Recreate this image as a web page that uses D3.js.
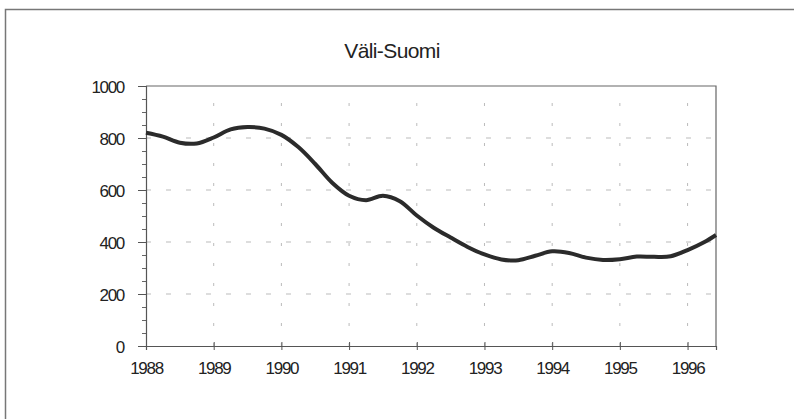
<!DOCTYPE html>
<html><head><meta charset="utf-8">
<script src="https://cdnjs.cloudflare.com/ajax/libs/d3/7.8.5/d3.min.js"></script>
<style>
html,body{margin:0;padding:0;background:#fff;}
svg{display:block;}
text{font-family:"Liberation Sans",Arial,sans-serif;fill:#222;}
</style></head>
<body>
<svg id="c" width="794" height="419"></svg>
<script>
const title = "Väli-Suomi";
const years = [1988, 1988.25, 1988.5, 1988.75, 1989, 1989.25, 1989.5, 1989.75,
  1990, 1990.25, 1990.5, 1990.75, 1991, 1991.25, 1991.5, 1991.75,
  1992, 1992.25, 1992.5, 1992.75, 1993, 1993.25, 1993.5, 1993.75,
  1994, 1994.25, 1994.5, 1994.75, 1995, 1995.25, 1995.5, 1995.75,
  1996, 1996.25, 1996.42];
const values = [820, 805, 782, 779, 802, 833, 842, 836,
  812, 765, 700, 628, 578, 561, 578, 557,
  502, 455, 417, 381, 352, 333, 330, 347,
  364, 358, 340, 331, 334, 344, 343, 345,
  369, 400, 427];
const xTickLabels = [1988, 1989, 1990, 1991, 1992, 1993, 1994, 1995, 1996];
const yTickLabels = [0, 200, 400, 600, 800, 1000];
const yMinorTicks = d3.range(0, 1001, 50);

const svg = d3.select("#c");
const L = 146, R = 716, T = 86, B = 346;
const x = d3.scaleLinear().domain([1988, 1996.42]).range([L, R]);
const y = d3.scaleLinear().domain([0, 1000]).range([B, T]);

// outer frame (top and left only visible)
svg.append("path").attr("d", `M5.5,420 L5.5,9.5 L800,9.5`)
  .attr("fill", "none").attr("stroke", "#777").attr("stroke-width", 1.5);

// title
svg.append("text").attr("x", 392).attr("y", 58).attr("text-anchor", "middle")
  .style("font-size", "21px").style("letter-spacing", "-0.6px").text(title);

// gridlines
const grid = svg.append("g");
grid.selectAll("line.h").data(yTickLabels.filter(d => d > 0 && d < 1000)).join("line")
  .attr("x1", L).attr("x2", R).attr("y1", d => y(d)).attr("y2", d => y(d))
  .attr("stroke", "#aaa").attr("stroke-width", 0.8).attr("stroke-dasharray", "5,15");
grid.selectAll("line.v").data(xTickLabels.filter(d => d > 1988)).join("line")
  .attr("y1", B).attr("y2", T).attr("x1", d => x(d)).attr("x2", d => x(d))
  .attr("stroke", "#aaa").attr("stroke-width", 0.8).attr("stroke-dasharray", "3,17");

// plot box top and right
svg.append("path").attr("d", `M${L},${T} L${R},${T} L${R},${B}`)
  .attr("fill", "none").attr("stroke", "#666").attr("stroke-width", 1.2);

// y axis minor ticks
const yAxisG = svg.append("g").attr("transform", `translate(${L},0)`);
yAxisG.call(d3.axisLeft(y).tickValues(yMinorTicks).tickSize(4).tickFormat(""));
yAxisG.call(g => g.select(".domain").remove());
yAxisG.selectAll("line").attr("stroke", "#666");
// y axis major
const yMajor = svg.append("g").attr("transform", `translate(${L},0)`)
  .call(d3.axisLeft(y).tickValues(yTickLabels).tickSize(8).tickPadding(14).tickFormat(d3.format("d")));
yMajor.select(".domain").attr("stroke", "#555").attr("stroke-width", 1.2);
yMajor.selectAll("line").attr("stroke", "#555");
yMajor.selectAll("text").style("font-size", "17px").style("letter-spacing", "-1.3px")
  .attr("dy", "0.36em").attr("fill", "#222");

// x axis
const xAxisG = svg.append("g").attr("transform", `translate(0,${B})`)
  .call(d3.axisBottom(x).tickValues(xTickLabels).tickSize(4).tickFormat(d3.format("d")).tickPadding(12));
xAxisG.select(".domain").attr("stroke", "#555").attr("stroke-width", 1.2);
xAxisG.selectAll("line").attr("y1", -4).attr("stroke", "#555");
xAxisG.selectAll("text").style("font-size", "17px").style("letter-spacing", "-1.3px").attr("fill", "#222");

// line
const data = years.map((d, i) => ({ x: d, v: values[i] }));
svg.append("path").datum(data)
  .attr("d", d3.line().x(d => x(d.x)).y(d => y(d.v)).curve(d3.curveCatmullRom.alpha(0.5)))
  .attr("fill", "none").attr("stroke", "#2b2b2b").attr("stroke-width", 4)
  .attr("stroke-linejoin", "round").attr("stroke-linecap", "butt");
</script>
</body></html>
